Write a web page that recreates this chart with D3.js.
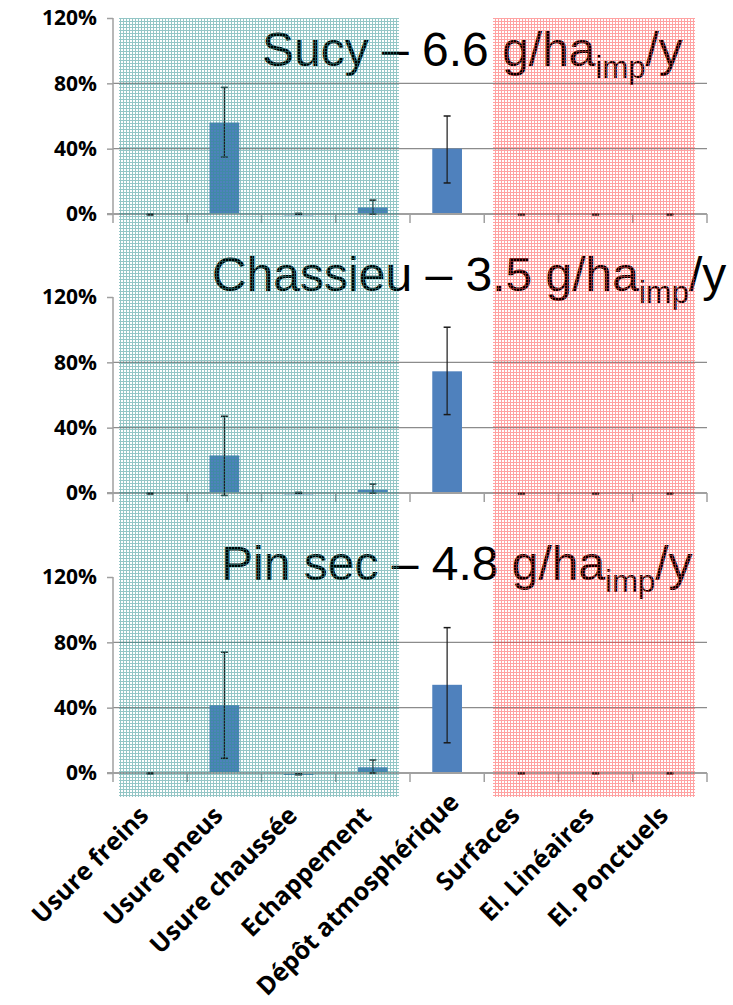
<!DOCTYPE html>
<html>
<head>
<meta charset="utf-8">
<script src="https://cdn.jsdelivr.net/npm/d3@7"></script>
<style>
  body { margin: 0; background: #fff; }
  svg { display: block; }
</style>
</head>
<body>
<svg id="chart" width="733" height="1005"></svg>
<script>
// categories on the x axis
var categories = ["Usure freins", "Usure pneus", "Usure chaussée", "Echappement",
                  "Dépôt atmosphérique", "Surfaces", "El. Linéaires", "El. Ponctuels"];
var sites = ["Sucy", "Chassieu", "Pin sec"];
var loads = ["6.6", "3.5", "4.8"];
var yTicks = [0, 40, 80, 120];

// share of each source, % (bar, error low, error high)
var sucyValues = [0, 56, 0.4, 4, 40, 0, 0, 0];
var sucyLow    = [0, 35, 0.4, 0, 19, 0, 0, 0];
var sucyHigh   = [0, 77.5, 0.4, 8.5, 60, 0, 0, 0];

var chassieuValues = [0, 23, 0.4, 2, 74.5, 0, 0, 0];
var chassieuLow    = [0, -1.5, 0.4, 0, 48, 0, 0, 0];
var chassieuHigh   = [0, 47, 0.4, 5.5, 101.5, 0, 0, 0];

var pinValues = [0, 41.5, -0.5, 3.5, 54, 0, 0, 0];
var pinLow    = [0, 9, -0.5, 0, 18.5, 0, 0, 0];
var pinHigh   = [0, 74, -0.5, 8, 89, 0, 0, 0];

var panelValues = [sucyValues, chassieuValues, pinValues];
var panelLow = [sucyLow, chassieuLow, pinLow];
var panelHigh = [sucyHigh, chassieuHigh, pinHigh];

var height = 1005,
    left = 113,
    right = 707,
    panelTop = [18, 297, 577],
    panelH = 196;

// title boxes (start x, baseline y)
var titlePos = [[262, 66], [212, 291], [221, 580]];

var svg = d3.select("#chart");

var defs = svg.append("defs");
function makeHatch(id, col) {
    var p = defs.append("pattern")
        .attr("id", id)
        .attr("width", 3).attr("height", 3)
        .attr("patternUnits", "userSpaceOnUse");
    p.append("rect").attr("x", 0).attr("y", 0).attr("width", 3).attr("height", 1).attr("fill", col);
    p.append("rect").attr("x", 0).attr("y", 1).attr("width", 1).attr("height", 2).attr("fill", col);
}
makeHatch("hatchTeal", "rgba(50,145,145,0.52)");
makeHatch("hatchRed", "rgba(255,70,70,0.5)");

var x = d3.scaleBand()
    .domain(categories)
    .range([left, right])
    .paddingInner(0.6)
    .paddingOuter(0.3);

var boundaries = d3.range(categories.length + 1).map(i => left + i * x.step());

panelValues.forEach(function(vals, p) {
    var base = panelTop[p] + panelH;
    var y = d3.scaleLinear().domain([0, 120]).range([base, panelTop[p]]);
    var g = svg.append("g");

    // gridlines
    g.selectAll(".grid")
        .data([40, 80])
        .join("line")
        .attr("x1", left).attr("x2", right)
        .attr("y1", d => y(d)).attr("y2", d => y(d))
        .attr("stroke", "#8c8c8c")
        .attr("stroke-width", 1.2);

    // bars
    g.selectAll(".bar")
        .data(vals)
        .join("rect")
        .attr("x", (d, i) => x(categories[i]))
        .attr("width", x.bandwidth())
        .attr("y", d => y(Math.max(0, d)))
        .attr("height", d => Math.max(Math.abs(y(0) - y(d)), d === 0 ? 0 : 2))
        .attr("fill", "#4f81bd");

    // y axis
    var yAxis = g.append("g")
        .attr("transform", "translate(" + left + ",0)")
        .call(d3.axisLeft(y).tickValues(yTicks).tickSize(6).tickPadding(10).tickFormat(d => d + "%"));
    yAxis.select(".domain").remove();
    yAxis.append("line")
        .attr("y1", y(120)).attr("y2", base)
        .attr("stroke", "#a0a0a0").attr("stroke-width", 1.5);
    yAxis.selectAll(".tick line").attr("stroke", "#a0a0a0").attr("stroke-width", 1.5);
    yAxis.selectAll(".tick text")
        .attr("fill", "#000")
        .style("font-family", "'Open Sans', Lato, sans-serif")
        .style("font-weight", "bold")
        .style("font-size", "21px");

    // x axis line and category ticks
    g.append("line")
        .attr("x1", left - 6).attr("x2", right)
        .attr("y1", base).attr("y2", base)
        .attr("stroke", "#a0a0a0").attr("stroke-width", 2);
    g.selectAll(".xtick")
        .data(boundaries)
        .join("line")
        .attr("x1", d => d).attr("x2", d => d)
        .attr("y1", base).attr("y2", base + 9)
        .attr("stroke", "#a0a0a0").attr("stroke-width", 1.5);

    // error bars
    var lo = panelLow[p], hi = panelHigh[p];
    var eb = g.selectAll(".err")
        .data(vals)
        .join("g")
        .attr("transform", (d, i) => "translate(" + (x(categories[i]) + x.bandwidth() / 2) + ",0)");
    eb.append("line")
        .attr("y1", (d, i) => y(lo[i])).attr("y2", (d, i) => y(hi[i]))
        .attr("stroke", "#1a1a1a").attr("stroke-width", 1.2);
    eb.append("line")
        .attr("x1", -3.5).attr("x2", 3.5)
        .attr("y1", (d, i) => y(hi[i])).attr("y2", (d, i) => y(hi[i]))
        .attr("stroke", "#1a1a1a").attr("stroke-width", 1.5);
    eb.append("line")
        .attr("x1", -3.5).attr("x2", 3.5)
        .attr("y1", (d, i) => y(lo[i]) + (lo[i] === hi[i] ? 1 : 0))
        .attr("y2", (d, i) => y(lo[i]) + (lo[i] === hi[i] ? 1 : 0))
        .attr("stroke", "#1a1a1a").attr("stroke-width", 1.5);

    // title
    var t = g.append("text")
        .attr("x", titlePos[p][0])
        .attr("y", titlePos[p][1])
        .style("font-family", "'Liberation Sans', Arial, sans-serif")
        .style("font-size", "48px")
        .attr("fill", "#000");
    t.append("tspan").text(sites[p] + " – " + loads[p] + " g/ha");
    t.append("tspan").attr("dy", 12).style("font-size", "31px").text("imp");
    t.append("tspan").attr("dy", -12).text("/y");
});

// category labels below the last panel
var labels = svg.append("g")
    .selectAll("text")
    .data(categories)
    .join("text")
    .attr("transform", d => "translate(" + (x(d) + x.bandwidth() / 2) + ",817) rotate(-45)")
    .attr("text-anchor", "end")
    .style("font-family", "'Open Sans', Lato, sans-serif")
    .style("font-weight", "bold")
    .style("font-size", "25px")
    .attr("fill", "#000")
    .text(d => d);

// push labels that run off the bottom up along their own direction
labels.each(function(d) {
    var b = this.getBoundingClientRect();
    var over = b.bottom - (height - 3);
    if (over > 0) {
        d3.select(this).attr("transform",
            "translate(" + (x(d) + x.bandwidth() / 2 + over) + "," + (817 - over) + ") rotate(-45)");
    }
});

// hatched overlays: road sources and urban sources
svg.append("rect")
    .attr("x", 119).attr("y", 18)
    .attr("width", 280).attr("height", 779)
    .attr("fill", "url(#hatchTeal)");
svg.append("rect")
    .attr("x", 493).attr("y", 18)
    .attr("width", 202).attr("height", 779)
    .attr("fill", "url(#hatchRed)");
</script>
</body>
</html>
